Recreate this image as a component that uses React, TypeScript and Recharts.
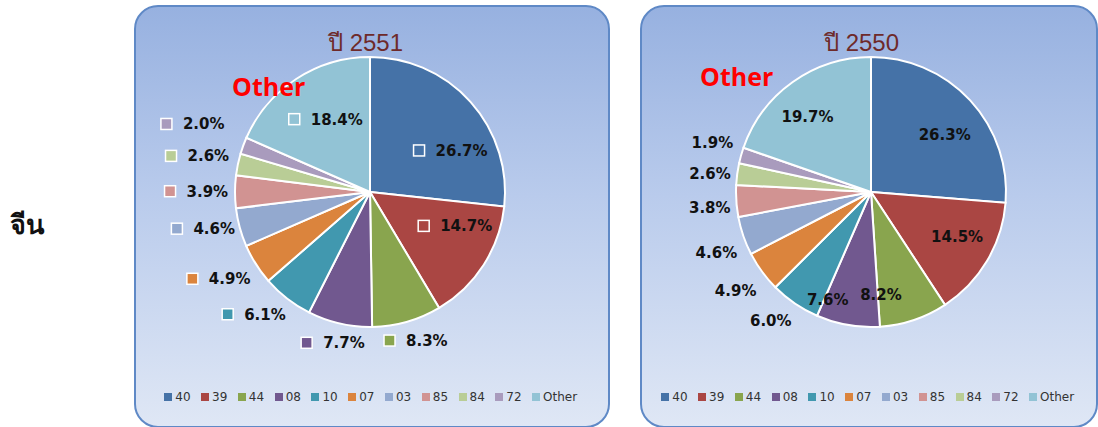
import { PieChart, Pie, Cell, Legend } from 'recharts'

const categories = ['40', '39', '44', '08', '10', '07', '03', '85', '84', '72', 'Other']
const share2551 = [26.7, 14.7, 8.3, 7.7, 6.1, 4.9, 4.6, 3.9, 2.6, 2.0, 18.4]
const share2550 = [26.3, 14.5, 8.2, 7.6, 6.0, 4.9, 4.6, 3.8, 2.6, 1.9, 19.7]

const COLORS = [
  '#4572a7',
  '#aa4643',
  '#89a54e',
  '#71588f',
  '#4198af',
  '#db843d',
  '#93a9cf',
  '#d19392',
  '#b9cd96',
  '#a99bbd',
  '#92c3d5',
]

// label placement (radius factor, clockwise angle nudge in degrees)
const LEFT_R = [0.65, 0.66, 1.16, 1.15, 1.24, 1.28, 1.25, 1.27, 1.29, 1.39, 0.64]
const LEFT_A = [14, -10, -2, 0, 5, 2, 2.5, 0, 0, 1, 0]
const RIGHT_R = [0.69, 0.72, 0.77, 0.86, 1.21, 1.24, 1.23, 1.2, 1.2, 1.23, 0.73]
const RIGHT_A = [5, -3, 13, 12, 3.5, 0, -2.4, -1.7, -1.4, 1.5, -4.7]

const RADIAN = Math.PI / 180

function makeLabel(rf: number[], af: number[], marker: boolean) {
  return (props: any) => {
    const { cx, cy, midAngle, outerRadius, index, value } = props
    const theta = (90 - Number(midAngle) + af[index]) * RADIAN
    const r = Number(outerRadius) * rf[index]
    const x = Number(cx) + r * Math.sin(theta)
    const y = Number(cy) - r * Math.cos(theta)
    const text = `${Number(value).toFixed(1)}%`
    if (!marker) {
      return (
        <text
          x={x}
          y={y}
          textAnchor="middle"
          dominantBaseline="central"
          fill="#111"
          fontSize={15}
          fontWeight={700}
          fontFamily="'DejaVu Sans', sans-serif"
        >
          {text}
        </text>
      )
    }
    const left = x - 34
    return (
      <g>
        <rect
          x={left}
          y={y - 6}
          width={11}
          height={11}
          fill={COLORS[index]}
          stroke="#fff"
          strokeWidth={1.5}
        />
        <text
          x={left + 22}
          y={y}
          textAnchor="start"
          dominantBaseline="central"
          fill="#111"
          fontSize={15}
          fontWeight={700}
          fontFamily="'DejaVu Sans', sans-serif"
        >
          {text}
        </text>
      </g>
    )
  }
}

function renderLegend() {
  return (
    <div
      style={{
        display: 'flex',
        justifyContent: 'center',
        alignItems: 'center',
        fontFamily: "'DejaVu Sans', sans-serif",
        fontSize: 12,
        color: '#333',
        paddingLeft: 8,
      }}
    >
      {categories.map((c, i) => (
        <span key={c} style={{ display: 'flex', alignItems: 'center', marginRight: 10.5 }}>
          <span
            style={{
              display: 'inline-block',
              width: 8,
              height: 8,
              background: COLORS[i],
              marginRight: 3,
            }}
          />
          {c}
        </span>
      ))}
    </div>
  )
}

function Panel({
  left,
  width,
  title,
  titleX,
  values,
  cx,
  labelR,
  labelA,
  marker,
  otherX,
  otherY,
}: {
  left: number
  width: number
  title: string
  titleX: number
  values: number[]
  cx: number
  labelR: number[]
  labelA: number[]
  marker: boolean
  otherX: number
  otherY: number
}) {
  const data = categories.map((name, i) => ({ name, value: values[i] }))
  return (
    <div
      style={{
        position: 'absolute',
        left,
        top: 5,
        width,
        height: 423,
        boxSizing: 'border-box',
        border: '2px solid #5f89c6',
        borderRadius: 24,
        background: 'linear-gradient(#97b1e0 0%, #b9cbec 45%, #dfe7f5 100%)',
        overflow: 'hidden',
      }}
    >
      <div
        style={{
          position: 'absolute',
          left: titleX,
          top: 16,
          fontFamily: "'Liberation Sans', 'Noto Sans', sans-serif",
          fontSize: 24,
          color: '#6e2a2a',
          whiteSpace: 'nowrap',
        }}
      >
        {title}
      </div>
      <PieChart width={width - 4} height={419} margin={{ top: 0, right: 0, bottom: 0, left: 0 }}>
        <Pie
          data={data}
          dataKey="value"
          nameKey="name"
          cx={cx}
          cy={185}
          outerRadius={135}
          startAngle={90}
          endAngle={-270}
          stroke="#ffffff"
          strokeWidth={2}
          labelLine={false}
          label={makeLabel(labelR, labelA, marker)}
          isAnimationActive={false}
        >
          {data.map((_, i) => (
            <Cell key={i} fill={COLORS[i]} />
          ))}
        </Pie>
        <Legend
          content={renderLegend}
          wrapperStyle={{ top: 383, left: 0, width: '100%' }}
        />
      </PieChart>
      <div
        style={{
          position: 'absolute',
          left: otherX,
          top: otherY,
          fontFamily: "'Open Sans', sans-serif",
          fontWeight: 700,
          fontSize: 25,
          color: '#ff0000',
          zIndex: 2,
        }}
      >
        Other
      </div>
    </div>
  )
}

export default function App() {
  return (
    <div
      style={{
        position: 'absolute',
        left: 0,
        top: 0,
        width: 1098,
        height: 427,
        overflow: 'hidden',
        background: '#fff',
      }}
    >
      <div
        style={{
          position: 'absolute',
          left: 10,
          top: 203,
          fontFamily: "'Noto Sans', 'DejaVu Sans', sans-serif",
          fontWeight: 700,
          fontSize: 27,
          color: '#111',
        }}
      >
        จีน
      </div>
      <Panel
        left={134}
        width={476}
        title="ปี 2551"
        titleX={192}
        values={share2551}
        cx={234}
        labelR={LEFT_R}
        labelA={LEFT_A}
        marker={true}
        otherX={96}
        otherY={62}
      />
      <Panel
        left={640}
        width={458}
        title="ปี 2550"
        titleX={182}
        values={share2550}
        cx={229}
        labelR={RIGHT_R}
        labelA={RIGHT_A}
        marker={false}
        otherX={58}
        otherY={52}
      />
    </div>
  )
}
